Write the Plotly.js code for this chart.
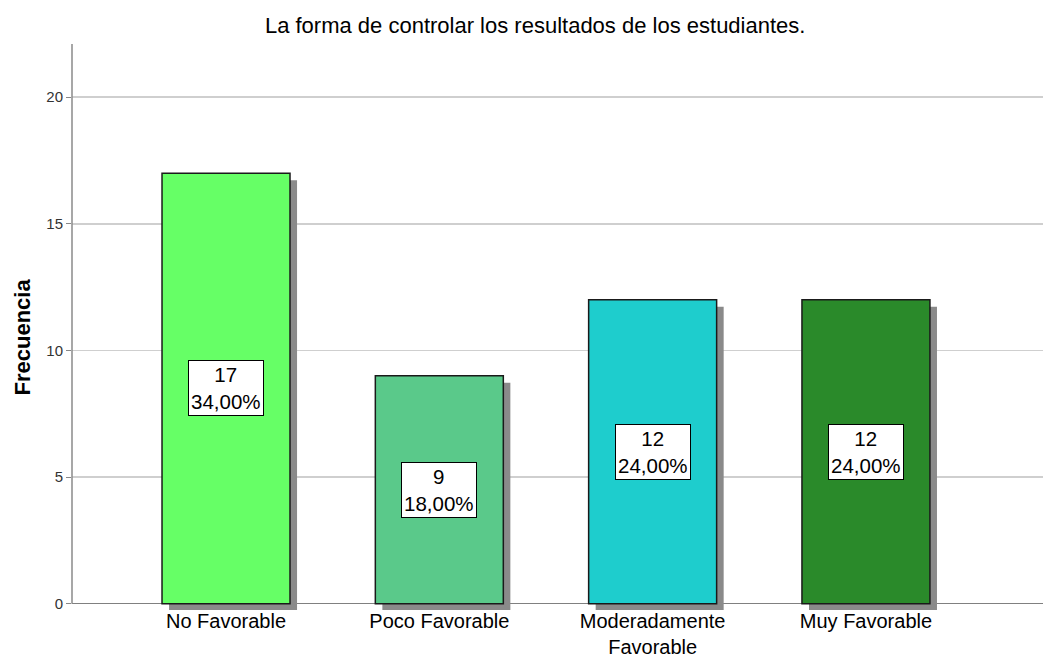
<!DOCTYPE html>
<html>
<head>
<meta charset="utf-8">
<script src="https://cdn.plot.ly/plotly-3.0.1.min.js"></script>
<style>html,body{margin:0;padding:0;background:#fff;}#chart{width:1043px;height:659px;}</style>
</head>
<body>
<div id="chart"></div>
<script>
const categories = ["No Favorable", "Poco Favorable", "Moderadamente<br>Favorable", "Muy Favorable"];
const frequencies = [17, 9, 12, 12];
const percentLabels = ["34,00%", "18,00%", "24,00%", "24,00%"];
const barColors = ["#66ff66", "#5ac98a", "#1ecdcd", "#2a8a2a"];
const yTickVals = [0, 5, 10, 15, 20];
const yTickText = ["0", "5", "10", "15", "20"];

const FONT = "Liberation Sans, Arial, sans-serif";
const yMax = 22.1, yMin = -0.25;
const shadowDrop = 0.28;

const shadow = {
  type: "bar",
  x: categories,
  y: frequencies.map(v => v - shadowDrop - yMin),
  base: yMin,
  width: 0.6,
  offset: -0.267,
  marker: {color: "#8a8a8a", line: {width: 0}},
  hoverinfo: "skip",
  showlegend: false
};
const bars = {
  type: "bar",
  x: categories,
  y: frequencies,
  base: 0,
  width: 0.6,
  offset: -0.3,
  marker: {color: barColors, line: {color: "#1a1a1a", width: 1.5}},
  showlegend: false
};

const annotations = categories.map((c, i) => ({
  x: c, y: frequencies[i] / 2, xref: "x", yref: "y",
  text: frequencies[i] + "<br>" + percentLabels[i],
  showarrow: false,
  bgcolor: "#ffffff", bordercolor: "#000000", borderwidth: 1, borderpad: 2,
  font: {family: FONT, size: 20.5, color: "#000"}
}));
annotations.push({
  text: "<b>Frecuencia</b>", textangle: -90, showarrow: false,
  xref: "paper", yref: "paper",
  x: -(72 - 22) / 971, y: (610 - 337.5) / 566,
  xanchor: "center", yanchor: "middle",
  font: {family: FONT, size: 22, color: "#000"}
});

const layout = {
  width: 1043, height: 659,
  margin: {l: 72, r: 0, t: 44, b: 49},
  paper_bgcolor: "#fff", plot_bgcolor: "#fff",
  barmode: "overlay",
  title: {
    text: "La forma de controlar los resultados de los estudiantes.",
    font: {family: FONT, size: 22, color: "#000"},
    x: 0.477, xref: "paper", xanchor: "center",
    y: 1 - 25/659, yref: "container", yanchor: "middle"
  },
  xaxis: {
    type: "category",
    range: [-0.722, 3.83],
    showgrid: false, showline: false, zeroline: false, ticks: "",
    ticklabelstandoff: -3,
    tickfont: {family: FONT, size: 20, color: "#000"},
    fixedrange: true
  },
  yaxis: {
    range: [yMin, yMax],
    tickvals: yTickVals, ticktext: yTickText,
    ticks: "outside", ticklen: 5, tickcolor: "#888", tickwidth: 1,
    tickfont: {family: FONT, size: 15, color: "#333"},
    showgrid: true, gridcolor: "#cfcfcf", gridwidth: 1.5,
    zeroline: true, zerolinecolor: "#808080", zerolinewidth: 1.5,
    showline: false,
    automargin: false
  },
  shapes: [{
    type: "line", xref: "paper", x0: 0, x1: 0, yref: "y", y0: 0, y1: yMax,
    line: {color: "#8a8a8a", width: 1.5}, layer: "above"
  }],
  annotations: annotations
};

Plotly.newPlot("chart", [shadow, bars], layout, {displayModeBar: false, staticPlot: true});
</script>
</body>
</html>
